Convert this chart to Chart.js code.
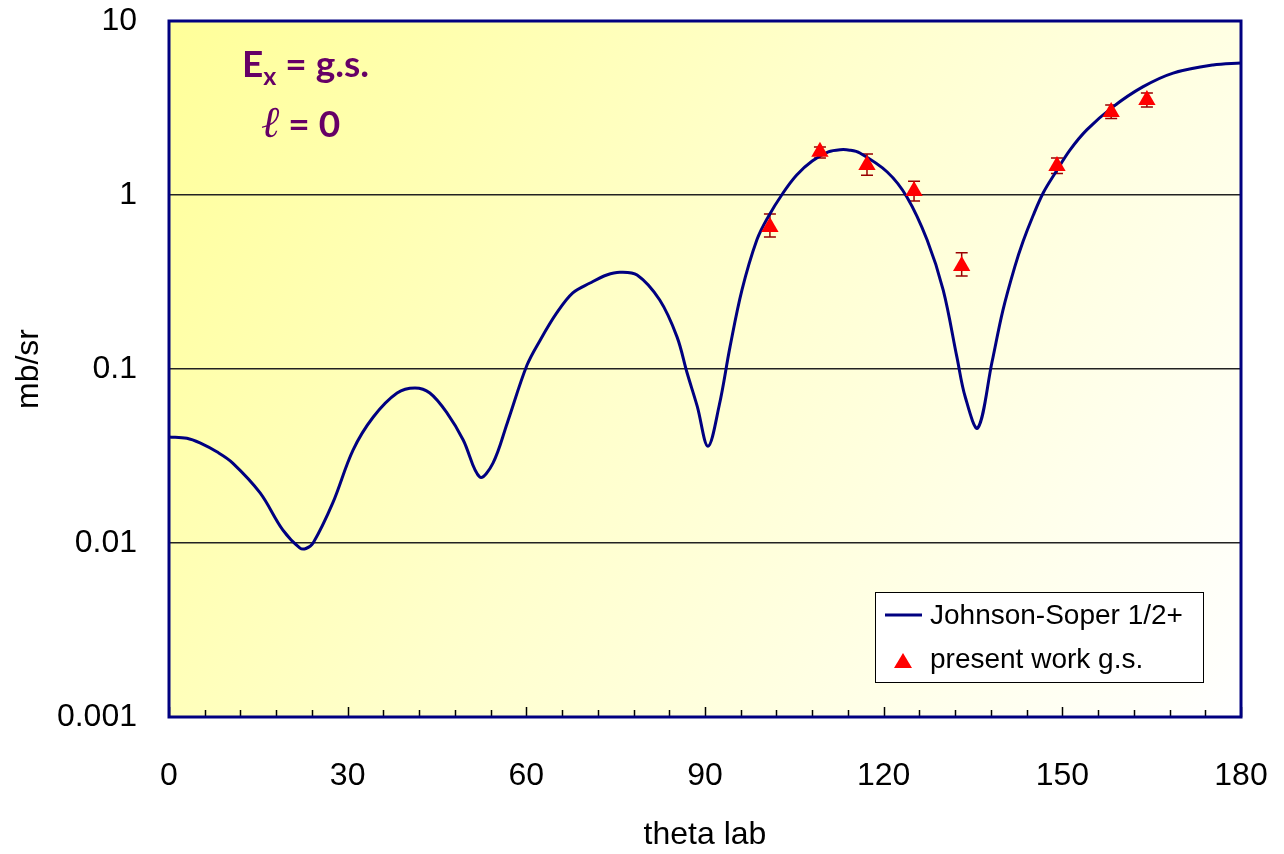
<!DOCTYPE html>
<html lang="en">
<head>
<meta charset="UTF-8">
<title>theta lab</title>
<script src="https://cdn.jsdelivr.net/npm/chart.js"></script>
<style>
  html, body { margin: 0; padding: 0; background: #fff; }
</style>
</head>
<body>
<canvas id="myChart" width="1284" height="854"></canvas>

<script>
  // Johnson-Soper 1/2+ calculation (deg, mb/sr)
  const thetaCalc = [0, 3, 5.2, 8.1, 10.7, 15.3, 19.1, 22, 23, 24.2, 27.5, 30.9, 34.3, 38.3, 41.3, 43.8, 46.7, 49.4,
    52.2, 54.4, 56.8, 60.1, 62.3, 65.1, 67.8, 70.7, 73.5, 75.7, 78.6, 82.4, 85.3, 87, 88.7, 90.5, 92.4, 94.2,
    96.2, 98.7, 100.6, 103.1, 105.4, 108.0, 110.7, 112.7, 114.3, 116, 120.6, 123.9, 127.3, 130, 132.3, 133.7,
    135.8, 138.2, 140, 142.0, 143.4, 145.1, 146.8, 148.8, 151.3, 154.1, 158.5, 163.5, 168.6, 175.3, 180];
  const sigmaCalc = [0.0407, 0.040, 0.0376, 0.0333, 0.0288, 0.0194, 0.0119, 0.00935, 0.0093, 0.0100, 0.017, 0.0342,
    0.0530, 0.0728, 0.0778, 0.0728, 0.0558, 0.0391, 0.0239, 0.0288, 0.0490, 0.105, 0.146, 0.210, 0.274,
    0.312, 0.347, 0.360, 0.347, 0.249, 0.153, 0.0948, 0.061, 0.0360, 0.0621, 0.134, 0.284, 0.551, 0.748,
    1.027, 1.303, 1.567, 1.767, 1.82, 1.81, 1.743, 1.356, 0.974, 0.551, 0.284, 0.117, 0.069, 0.0458, 0.110,
    0.216, 0.385, 0.540, 0.762, 1.03, 1.337, 1.815, 2.366, 3.21, 4.18, 5.02, 5.59, 5.74];

  // measured g.s. cross sections with error limits
  const thetaExp = [100.9, 109.3, 117.2, 125.1, 133.1, 149.1, 158.2, 164.2];
  const sigmaExp = [0.654, 1.77, 1.486, 1.055, 0.391, 1.47, 3.0, 3.52];
  const sigmaLo  = [0.574, 1.63, 1.30, 0.924, 0.342, 1.33, 2.75, 3.2];
  const sigmaHi  = [0.778, 1.89, 1.72, 1.20, 0.465, 1.63, 3.29, 3.86];

  const xTicks = [0, 30, 60, 90, 120, 150, 180];
  const xMinorStep = 6;
  const yTicks = [0.001, 0.01, 0.1, 1, 10];

  const NAVY = '#000080';
  const FONT = '"Liberation Sans", Arial, sans-serif';

  const decor = {
    id: 'decor',
    beforeDraw(chart) {
      const { ctx, chartArea: a } = chart;
      const g = ctx.createLinearGradient(a.left, a.top, a.right, a.bottom);
      g.addColorStop(0, '#ffff99');
      g.addColorStop(0.45, '#ffffcc');
      g.addColorStop(1, '#ffffff');
      ctx.save();
      ctx.fillStyle = g;
      ctx.fillRect(a.left, a.top, a.width, a.height);
      ctx.restore();
    },
    beforeDatasetsDraw(chart) {
      // error bars
      const { ctx } = chart;
      const xs = chart.scales.x, ys = chart.scales.y;
      ctx.save();
      ctx.strokeStyle = '#990000';
      ctx.lineWidth = 1.5;
      thetaExp.forEach((t, i) => {
        const px = xs.getPixelForValue(t);
        const y1 = ys.getPixelForValue(sigmaLo[i]);
        const y2 = ys.getPixelForValue(sigmaHi[i]);
        ctx.beginPath();
        ctx.moveTo(px, y1); ctx.lineTo(px, y2);
        ctx.moveTo(px - 6, y1); ctx.lineTo(px + 6, y1);
        ctx.moveTo(px - 6, y2); ctx.lineTo(px + 6, y2);
        ctx.stroke();
      });
      ctx.restore();
    },
    afterDatasetsDraw(chart) {
      const { ctx, chartArea: a } = chart;
      const xs = chart.scales.x;
      ctx.save();

      // tick marks inside the bottom axis
      ctx.strokeStyle = '#000';
      ctx.lineWidth = 1.5;
      for (let v = 0; v <= 180; v += xMinorStep) {
        const px = Math.round(xs.getPixelForValue(v)) + 0.5;
        const len = v % 30 === 0 ? 10 : 7;
        ctx.beginPath();
        ctx.moveTo(px, a.bottom);
        ctx.lineTo(px, a.bottom - len);
        ctx.stroke();
      }

      // plot frame
      ctx.strokeStyle = NAVY;
      ctx.lineWidth = 3;
      ctx.strokeRect(a.left, a.top, a.width, a.height);

      // legend box
      const bw = 328, bh = 90;
      const bx = a.right - 38 - bw, by = a.bottom - 35 - bh;
      ctx.fillStyle = '#fff';
      ctx.fillRect(bx, by, bw, bh);
      ctx.strokeStyle = '#000';
      ctx.lineWidth = 1;
      ctx.strokeRect(bx + 0.5, by + 0.5, bw, bh);

      const line = chart.data.datasets[1], pts = chart.data.datasets[0];
      ctx.strokeStyle = line.borderColor;
      ctx.lineWidth = 3;
      ctx.beginPath();
      ctx.moveTo(bx + 10, by + 23); ctx.lineTo(bx + 47, by + 23);
      ctx.stroke();
      ctx.fillStyle = pts.backgroundColor;
      ctx.beginPath();
      ctx.moveTo(bx + 28, by + 61);
      ctx.lineTo(bx + 37, by + 76);
      ctx.lineTo(bx + 19, by + 76);
      ctx.closePath();
      ctx.fill();

      ctx.fillStyle = '#000';
      ctx.font = '28px ' + FONT;
      ctx.textBaseline = 'middle';
      ctx.fillText(line.label, bx + 55, by + 24);
      ctx.fillText(pts.label, bx + 55, by + 68);

      // level labels
      ctx.fillStyle = '#660066';
      ctx.textBaseline = 'alphabetic';
      const big = 'bold 37px Lato, "Open Sans", sans-serif';
      const sub = 'bold 25px Lato, "Open Sans", sans-serif';
      let tx = a.left + 73;
      const ty = a.top + 56;
      ctx.font = big;
      ctx.fillText('E', tx, ty);
      tx += ctx.measureText('E').width;
      ctx.font = sub;
      ctx.fillText('x', tx, ty + 8);
      tx += ctx.measureText('x').width;
      ctx.font = big;
      ctx.fillText(' = g.s.', tx, ty);

      let lx = a.left + 92;
      const ly = a.top + 116;
      ctx.font = 'italic 44px "DejaVu Serif", serif';
      ctx.fillText('\u2113', lx, ly);
      lx += ctx.measureText('\u2113').width;
      ctx.font = big;
      ctx.fillText(' = 0', lx, ly);

      ctx.restore();
    }
  };

  const ctx = document.getElementById('myChart');

  new Chart(ctx, {
    data: {
      datasets: [{
        type: 'scatter',
        label: 'present work g.s.',
        data: thetaExp.map((t, i) => ({ x: t, y: sigmaExp[i] })),
        pointStyle: 'triangle',
        pointRadius: 10,
        pointHoverRadius: 10,
        backgroundColor: '#ff0000',
        borderColor: '#ff0000',
        borderWidth: 0,
        order: 0
      }, {
        type: 'line',
        label: 'Johnson-Soper 1/2+',
        data: thetaCalc.map((t, i) => ({ x: t, y: sigmaCalc[i] })),
        borderColor: NAVY,
        borderWidth: 3,
        pointRadius: 0,
        tension: 0.35,
        fill: false,
        order: 1
      }]
    },
    options: {
      responsive: false,
      animation: false,
      devicePixelRatio: 1,
      layout: { padding: { left: 0, right: 43, top: 21, bottom: 0 } },
      plugins: {
        legend: { display: false },
        tooltip: { enabled: false }
      },
      scales: {
        x: {
          type: 'linear',
          min: 0,
          max: 180,
          afterBuildTicks: s => { s.ticks = xTicks.map(v => ({ value: v })); },
          afterFit: s => { s.height = 137; s.paddingLeft = 0; s.paddingRight = 0; },
          grid: { display: false, drawTicks: false },
          border: { display: false },
          ticks: {
            padding: 40,
            color: '#000',
            maxRotation: 0,
            autoSkip: false,
            font: { family: FONT, size: 32 }
          },
          title: {
            display: true,
            text: 'theta lab',
            color: '#000',
            padding: { top: 0, bottom: 0 },
            font: { family: FONT, size: 32 }
          }
        },
        y: {
          type: 'logarithmic',
          min: 0.001,
          max: 10,
          afterBuildTicks: s => { s.ticks = yTicks.map(v => ({ value: v })); },
          afterFit: s => { s.width = 169; s.paddingTop = 0; s.paddingBottom = 0; },
          grid: { color: '#222', lineWidth: 1.5, drawTicks: false },
          border: { display: false },
          ticks: {
            padding: 32,
            color: '#000',
            font: { family: FONT, size: 32 },
            callback: v => String(v)
          },
          title: {
            display: true,
            text: 'mb/sr',
            color: '#000',
            padding: { top: 10, bottom: 0 },
            font: { family: FONT, size: 32 }
          }
        }
      }
    },
    plugins: [decor]
  });
</script>
</body>
</html>
